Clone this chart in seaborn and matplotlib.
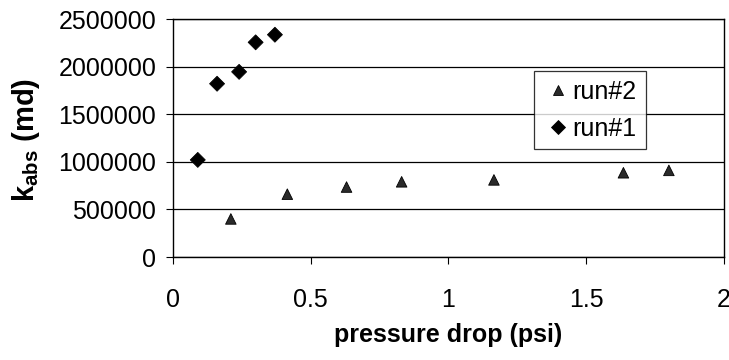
import matplotlib
matplotlib.use("Agg")
import matplotlib.pyplot as plt
import seaborn as sns
import pandas as pd

# Run #1 measurements
run1_dp = [0.09, 0.16, 0.24, 0.30, 0.37]
run1_k = [1020000, 1820000, 1945000, 2255000, 2335000]

# Run #2 measurements
run2_dp = [0.21, 0.415, 0.63, 0.83, 1.165, 1.635, 1.80]
run2_k = [400000, 660000, 735000, 790000, 810000, 885000, 910000]

x_ticks = [0, 0.5, 1, 1.5, 2]
y_ticks = [0, 500000, 1000000, 1500000, 2000000, 2500000]

df = pd.concat([
    pd.DataFrame({"dp": run2_dp, "k": run2_k, "run": "run#2"}),
    pd.DataFrame({"dp": run1_dp, "k": run1_k, "run": "run#1"}),
], ignore_index=True)

sns.set_theme(style="white")
plt.rcParams["font.family"] = ["Liberation Sans", "DejaVu Sans"]
plt.rcParams["mathtext.fontset"] = "custom"
plt.rcParams["mathtext.rm"] = "Liberation Sans"
plt.rcParams["mathtext.bf"] = "Liberation Sans:bold"
plt.rcParams["text.color"] = "black"
plt.rcParams["axes.labelcolor"] = "black"

fig = plt.figure(figsize=(7.29, 3.6), dpi=100)
ax = fig.add_axes([0.2373, 0.2861, 0.7558, 0.6611])

sns.scatterplot(
    data=df, x="dp", y="k", hue="run", style="run",
    palette={"run#2": "#2a2a2a", "run#1": "black"},
    markers={"run#2": "^", "run#1": "D"},
    s=58, edgecolor="black", linewidth=0.6, ax=ax, zorder=3,
)

ax.set_xlim(0, 2)
ax.set_ylim(0, 2500000)
ax.set_xticks(x_ticks)
ax.set_xticklabels(["0", "0.5", "1", "1.5", "2"])
ax.set_yticks(y_ticks)
ax.set_yticklabels([str(v) for v in y_ticks])

ax.yaxis.grid(True, color="black", linewidth=0.9)
ax.xaxis.grid(False)
ax.set_axisbelow(True)
for sp in ax.spines.values():
    sp.set_visible(True)
    sp.set_color("black")
    sp.set_linewidth(1.0)

ax.tick_params(axis="both", labelsize=18, colors="black", length=5, width=0.8,
               direction="out")
ax.tick_params(axis="x", pad=17, bottom=True)
ax.tick_params(axis="y", pad=7, left=True)

ax.set_xlabel("pressure drop (psi)", fontsize=18, fontweight="bold", labelpad=8,
              color="black")
ax.set_ylabel(r"$\mathbf{k_{abs}}$ $\mathbf{(md)}$", fontsize=21, color="black")
ax.yaxis.set_label_coords(-0.237, 0.49)

leg = ax.legend(
    loc="upper left", bbox_to_anchor=(0.655, 0.78), frameon=True, fancybox=False,
    fontsize=18, handletextpad=0.0, borderpad=0.35, labelspacing=0.5,
    handlelength=1.2, borderaxespad=0,
)
leg.get_frame().set_edgecolor("black")
leg.get_frame().set_linewidth(0.9)
for t in leg.get_texts():
    t.set_color("black")
leg.set_title(None)

fig.savefig("out.png", dpi=100)
